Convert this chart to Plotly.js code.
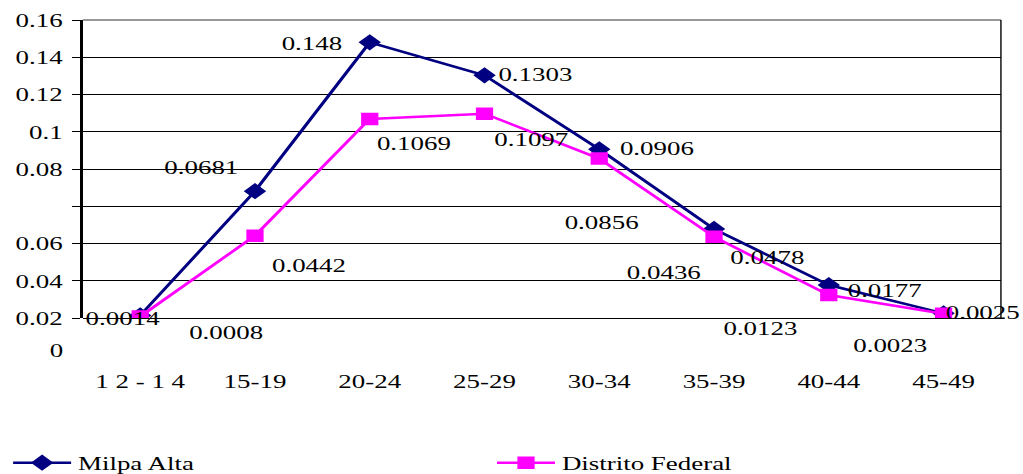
<!DOCTYPE html>
<html>
<head>
<meta charset="utf-8">
<script src="https://cdn.plot.ly/plotly-3.0.1.min.js"></script>
<style>
  html, body { margin: 0; padding: 0; background: #fff; }
  #wrap { width: 1023px; height: 474px; overflow: hidden; }
  #chart { width: 741px; height: 474px; transform: scaleX(1.3806); transform-origin: 0 0; }
</style>
</head>
<body>
<div id="wrap"><div id="chart"></div></div>
<script>
// ---- data ----
const categories = ["1 2 - 1 4", "15-19", "20-24", "25-29", "30-34", "35-39", "40-44", "45-49"];
const milpaAlta = [0.0014, 0.0681, 0.148, 0.1303, 0.0906, 0.0478, 0.0177, 0.0025];
const distritoFederal = [0.0008, 0.0442, 0.1069, 0.1097, 0.0856, 0.0436, 0.0123, 0.0023];
const milpaLabels = ["0.0014", "0.0681", "0.148", "0.1303", "0.0906", "0.0478", "0.0177", "0.0025"];
const dfLabels = ["0.0008", "0.0442", "0.1069", "0.1097", "0.0856", "0.0436", "0.0123", "0.0023"];
const yTickVals = [0, 0.02, 0.04, 0.06, 0.08, 0.1, 0.12, 0.14, 0.16];
const yTickText = ["0.02", "0.04", "0.06", "", "0.08", "0.1", "0.12", "0.14", "0.16"];

// label offsets (screen px, relative to each point)
const milpaOffsets = [[-18, 3], [-54, -24], [-58, 1], [51, -1], [58, -1], [54, 29], [56, 5], [40, -1]];
const dfOffsets = [[86, 16], [54, 30], [45, 25], [47, 26], [2, 64], [-50, 36], [-68, 33], [-53, 32]];

const SX = 1.3806;
const FONT = "Liberation Serif, Times New Roman, serif";
const FS = 19.5;

const traces = [
  {
    x: categories, y: milpaAlta, name: "Milpa Alta", type: "scatter", mode: "lines+markers",
    line: { color: "#000080", width: 2.5 },
    marker: { symbol: "diamond", size: 12.5, color: "#000080" },
    legend: "legend", hoverinfo: "x+y"
  },
  {
    x: categories, y: distritoFederal, name: "Distrito Federal", type: "scatter", mode: "lines+markers",
    line: { color: "#FF00FF", width: 2.5 },
    marker: { symbol: "square", size: 12.5, color: "#FF00FF" },
    legend: "legend2", hoverinfo: "x+y"
  }
];

const annotations = [];
function addLabels(vals, labels, offs) {
  vals.forEach((v, i) => {
    annotations.push({
      x: categories[i], y: v, xref: "x", yref: "y", text: labels[i], showarrow: false,
      xanchor: "center", yanchor: "middle",
      xshift: offs[i][0] / SX, yshift: -offs[i][1],
      font: { family: FONT, size: FS, color: "#000" }
    });
  });
}
addLabels(milpaAlta, milpaLabels, milpaOffsets);
addLabels(distritoFederal, dfLabels, dfOffsets);
annotations.push({
  x: 0, y: 0, xref: "paper", yref: "y", text: "0", showarrow: false,
  xanchor: "right", yanchor: "middle", xshift: -12, yshift: -32,
  font: { family: FONT, size: FS, color: "#000" }
});

const legendBase = {
  orientation: "h", xref: "container", yref: "container", yanchor: "middle", xanchor: "left",
  y: (474 - 463) / 474, font: { family: FONT, size: FS, color: "#000" },
  bgcolor: "rgba(0,0,0,0)", borderwidth: 0, itemwidth: 42
};

const layout = {
  width: 741, height: 474,
  margin: { l: 60, r: 16, t: 20, b: 156, pad: 0 },
  paper_bgcolor: "#fff", plot_bgcolor: "#fff",
  font: { family: FONT, size: FS, color: "#000" },
  showlegend: true,
  legend: Object.assign({}, legendBase, { x: 4.5 / 741 }),
  legend2: Object.assign({}, legendBase, { x: 355 / 741 }),
  xaxis: {
    type: "category", range: [-0.5, 7.5], showgrid: false, zeroline: false, showline: false,
    ticks: "", ticklabelstandoff: 50,
    tickfont: { family: FONT, size: FS, color: "#000" }, fixedrange: true
  },
  yaxis: {
    range: [0, 0.16], tickvals: yTickVals, ticktext: yTickText,
    showgrid: true, gridcolor: "#000", gridwidth: 1,
    zeroline: true, zerolinecolor: "#000", zerolinewidth: 1,
    showline: true, linecolor: "#000", linewidth: 1.7,
    ticks: "outside", ticklen: 6, tickcolor: "#000", tickwidth: 1, ticklabelstandoff: 3,
    tickfont: { family: FONT, size: FS, color: "#000" }, fixedrange: true
  },
  shapes: [
    { type: "line", xref: "paper", yref: "paper", x0: 0, x1: 1, y0: 1, y1: 1, line: { color: "#333", width: 1 } },
    { type: "line", xref: "paper", yref: "paper", x0: 1, x1: 1, y0: 0, y1: 1, line: { color: "#000", width: 1 } }
  ],
  annotations: annotations
};

Plotly.newPlot("chart", traces, layout, { displayModeBar: false, staticPlot: true });
</script>
</body>
</html>
